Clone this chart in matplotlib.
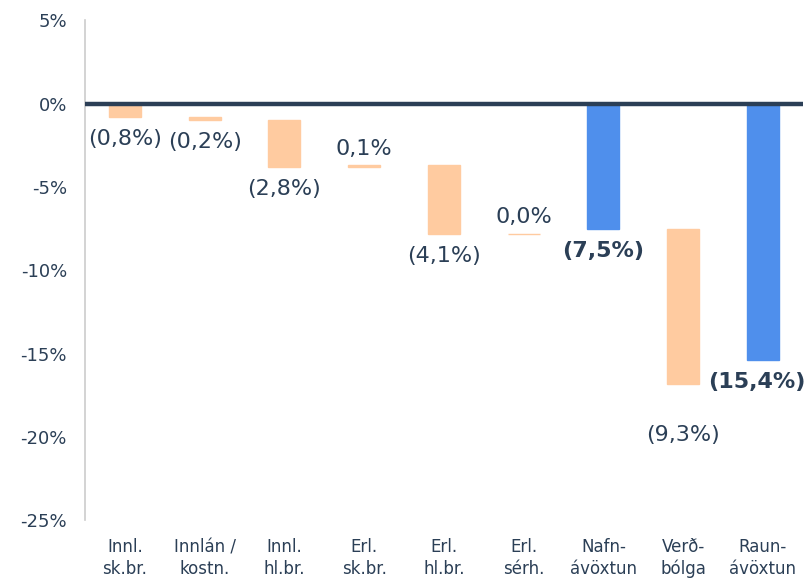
import numpy as np
from matplotlib import pyplot as plt

categories = ["Innl.\nsk.br.", "Innlán /\nkostn.", "Innl.\nhl.br.", "Erl.\nsk.br.", "Erl.\nhl.br.",
              "Erl.\nsérh.", "Nafn-\návöxtun", "Verð-\nbólga", "Raun-\návöxtun"]
# change per step (%), totals marked separately
values = [-0.8, -0.2, -2.8, 0.1, -4.1, 0.0, -7.5, -9.3, -15.4]
is_total = [False, False, False, False, False, False, True, False, True]
# bar bases (waterfall does not add up exactly due to rounding)
bases = [0.0, -0.8, -1.0, -3.8, -3.7, -7.8, 0.0, -7.5, 0.0]
labels = ["(0,8%)", "(0,2%)", "(2,8%)", "0,1%", "(4,1%)", "0,0%", "(7,5%)", "(9,3%)", "(15,4%)"]

navy = "#2B3F56"
orange = "#FFCBA0"
blue = "#4F8FEC"

plt.rcParams['font.family'] = ['DejaVu Sans']

fig = plt.figure(figsize=(8.1, 5.78), dpi=100)
ax = fig.add_axes([0.105, 0.1, 0.886, 0.865])

x = np.arange(len(categories))
colors = [blue if t else orange for t in is_total]
heights = np.array(values)
bottoms = np.array(bases)
ax.bar(x, heights, bottom=bottoms, width=0.4, color=colors, edgecolor=colors, lw=1, zorder=2)

ax.axhline(0, color=navy, lw=3.2, zorder=3)

# label offsets in points (style only)
extra = {7: 21}
xshift = {8: -0.08}
for i, (v, b, lab) in enumerate(zip(values, bases, labels)):
    end = b + v
    weight = 'bold' if is_total[i] else 'normal'
    if v > 0 or (v == 0 and not is_total[i]):
        ax.annotate(lab, (x[i] + xshift.get(i, 0), end), xytext=(0, 12), textcoords='offset points',
                    ha='center', va='center', fontsize=16, color=navy, weight=weight)
    else:
        ax.annotate(lab, (x[i] + xshift.get(i, 0), end), xytext=(0, -16 - extra.get(i, 0)),
                    textcoords='offset points', ha='center', va='center', fontsize=16,
                    color=navy, weight=weight)

ax.set_xlim(-0.5, len(categories) - 0.5)
ax.set_ylim(-25, 5)
ax.set_yticks(np.arange(-25, 6, 5))
ax.set_yticklabels([f"{t}%" for t in range(-25, 6, 5)])
ax.set_xticks(x)
ax.set_xticklabels(categories, fontsize=12, color=navy, linespacing=1.25)
ax.tick_params(axis='y', length=0, pad=13, labelsize=13, labelcolor=navy)
ax.tick_params(axis='x', length=0, pad=13)

for s in ['top', 'right', 'bottom']:
    ax.spines[s].set_visible(False)
ax.spines['left'].set_color('#CCCCCC')
ax.spines['left'].set_linewidth(1.2)

plt.savefig("out.png", dpi=100)
